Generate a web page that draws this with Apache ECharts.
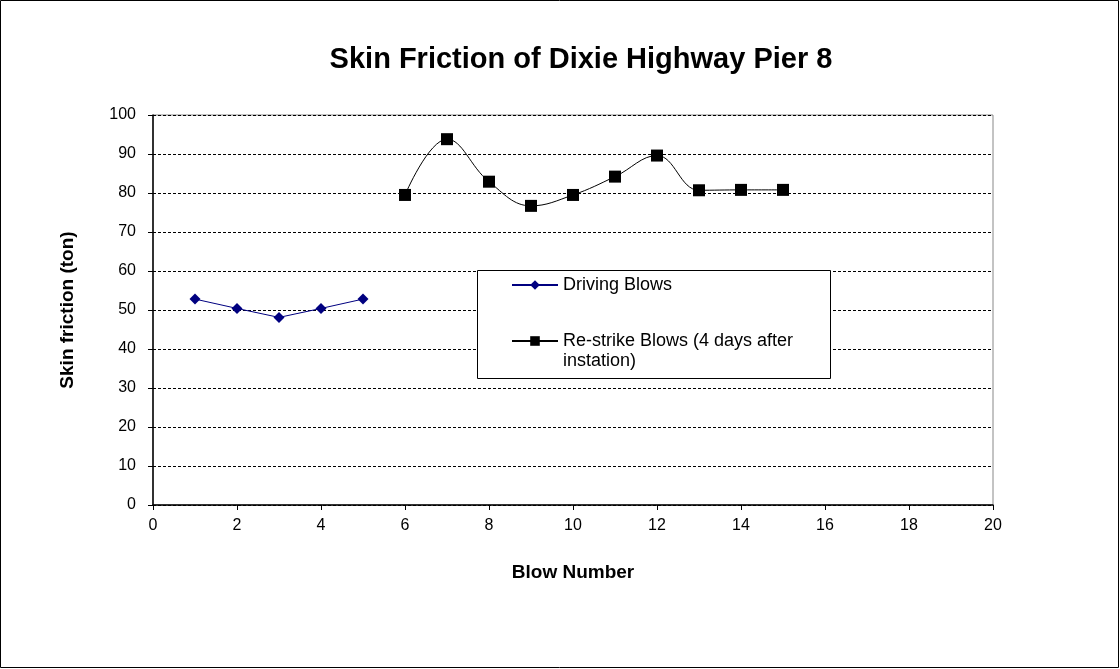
<!DOCTYPE html>
<html>
<head>
<meta charset="utf-8">
<script src="https://cdn.jsdelivr.net/npm/echarts@6/dist/echarts.min.js"></script>
<style>
  html, body { margin: 0; padding: 0; background: #fff; }
  #container { width: 1120px; height: 669px; }
</style>
</head>
<body>
<div id="container"></div>
<script>
// blow numbers and skin friction values
var drivingX = [1, 2, 3, 4, 5];
var drivingY = [52.8, 50.4, 48.1, 50.4, 52.8];
var restrikeX = [6, 7, 8, 9, 10, 11, 12, 13, 14, 15];
var restrikeY = [79.5, 93.8, 82.9, 76.7, 79.5, 84.2, 89.6, 80.7, 80.8, 80.8];

var drivingName = 'Driving Blows';
var restrikeName = 'Re-strike Blows (4 days after instation)';

function pairs(xs, ys) {
  return xs.map(function (x, i) { return [x, ys[i]]; });
}

var myChart = echarts.init(document.getElementById('container'));
var font = 'Liberation Sans, Arial, sans-serif';

var option = {
  backgroundColor: '#fff',
  animation: false,
  title: {
    text: 'Skin Friction of Dixie Highway Pier 8',
    left: 576,
    textAlign: 'center',
    top: 40,
    textStyle: { fontFamily: font, fontSize: 29, fontWeight: 'bold', color: '#000' }
  },
  graphic: [
    { type: 'rect', shape: { x: 0.5, y: 0.5, width: 1118, height: 667 },
      style: { fill: 'none', stroke: '#000', lineWidth: 1 }, z: -1 },
    { type: 'rect', shape: { x: 477.5, y: 270.5, width: 353, height: 108 },
      style: { fill: '#fff', stroke: '#000', lineWidth: 1 }, z: 5 }
  ],
  legend: [
    {
      left: 506,
      top: 270,
      itemWidth: 46,
      itemHeight: 12,
      zlevel: 1,
      textStyle: { fontFamily: font, fontSize: 18, color: '#000', lineHeight: 20 },
      data: [drivingName]
    },
    {
      // blank first line so the icon sits level with the first text line
      left: 506,
      top: 306,
      itemWidth: 46,
      itemHeight: 12,
      zlevel: 1,
      textStyle: { fontFamily: font, fontSize: 18, color: '#000', lineHeight: 20 },
      formatter: function () {
        return ' \nRe-strike Blows (4 days after\ninstation)';
      },
      data: [restrikeName]
    }
  ],
  grid: {
    left: 153, right: 127, top: 115, bottom: 164,
    show: true, borderColor: '#888', borderWidth: 1
  },
  xAxis: {
    type: 'value',
    min: 0, max: 20, interval: 2,
    name: 'Blow Number',
    nameLocation: 'middle',
    nameGap: 58,
    nameTextStyle: { fontFamily: font, fontSize: 19, fontWeight: 'bold', color: '#000' },
    axisLine: { lineStyle: { color: '#000', width: 1.5 } },
    axisTick: { show: true, length: 5, lineStyle: { color: '#000' } },
    axisLabel: { fontFamily: font, fontSize: 16, color: '#000', margin: 13 },
    splitLine: { show: false }
  },
  yAxis: {
    type: 'value',
    min: 0, max: 100, interval: 10,
    name: 'Skin friction (ton)',
    nameLocation: 'middle',
    nameGap: 76,
    nameTextStyle: { fontFamily: font, fontSize: 19, fontWeight: 'bold', color: '#000' },
    axisLine: { show: true, lineStyle: { color: '#000', width: 1.5 } },
    axisTick: { show: true, length: 5, lineStyle: { color: '#000' } },
    axisLabel: { fontFamily: font, fontSize: 16, color: '#000', margin: 17 },
    splitLine: { lineStyle: { color: '#000', type: [3, 2], width: 1 } }
  },
  series: [
    {
      name: drivingName,
      type: 'line',
      data: pairs(drivingX, drivingY),
      symbol: 'diamond',
      symbolSize: 11,
      itemStyle: { color: '#000080' },
      lineStyle: { color: '#000080', width: 1 }
    },
    {
      name: restrikeName,
      type: 'line',
      data: pairs(restrikeX, restrikeY),
      smooth: 0.4,
      symbol: 'rect',
      symbolSize: 12,
      itemStyle: { color: '#000' },
      lineStyle: { color: '#000', width: 1 }
    }
  ]
};

myChart.setOption(option);
</script>
</body>
</html>
